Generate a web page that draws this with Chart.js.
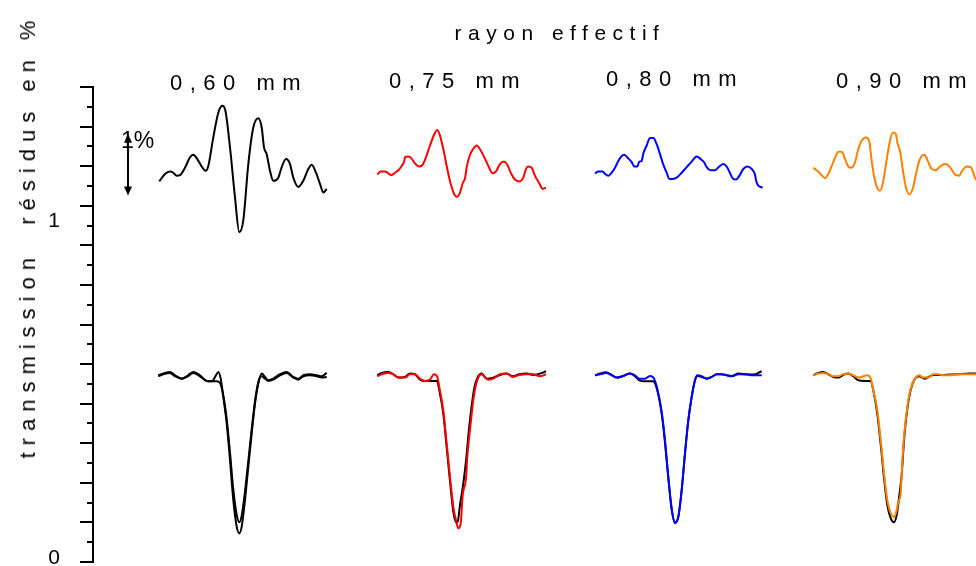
<!DOCTYPE html>
<html>
<head>
<meta charset="utf-8">
<script src="https://cdn.jsdelivr.net/npm/chart.js@4.4.1/dist/chart.umd.min.js"></script>
<style>
  html, body { margin: 0; padding: 0; background: #fff; }
  #cadre { position: relative; width: 976px; height: 566px; overflow: hidden;
           font-family: "Liberation Sans", Arial, sans-serif; color: #000; }
  #cadre canvas { position: absolute; left: 0; top: 0; }
  .texte { position: absolute; white-space: pre; line-height: 1; }
  #titre { left: 560px; top: 22px; font-size: 21px; letter-spacing: 6.5px; transform: translateX(-50%); }
  .rayon { font-size: 22px; letter-spacing: 7.5px; transform: translateX(-50%); }
  #axeY { left: 28px; top: 236px; font-size: 22px; letter-spacing: 7px;
          transform: translate(-50%, -50%) rotate(-90deg); }
</style>
</head>
<body>
<div id="cadre">
  <canvas id="graf" width="976" height="566"></canvas>
  <div class="texte" id="titre">rayon effectif</div>
  <div class="texte rayon" style="left:239px;top:72px">0,60 mm</div>
  <div class="texte rayon" style="left:458px;top:70px">0,75 mm</div>
  <div class="texte rayon" style="left:675px;top:68px">0,80 mm</div>
  <div class="texte rayon" style="left:905px;top:70px">0,90 mm</div>
  <div class="texte" id="axeY">transmission  résidus en %</div>
</div>
<script>
// rayons effectifs (un panneau par rayon)
var rayons = ["0,60 mm", "0,75 mm", "0,80 mm", "0,90 mm"];

// graduations de l'axe vertical
var valeursEtiquettes = [0, 1];
var textesEtiquettes = ["0", "1"];

// résidus en % : [canal, résidu]
var residus60 = [[1.3,-0.14],[7,-0.02],[12,0.02],[15.3,0.0],[18.7,-0.05],[22,-0.04],[27,0.08],[32,0.25],[35.3,0.29],[39.3,0.22],[43.7,0.10],[47.7,0.03],[50.3,0.11],[55.3,0.57],[60.3,0.97],[64.3,1.08],[67,1.03],[72,0.41],[77,-0.40],[81.3,-0.96],[85.3,-0.77],[90.3,0.14],[95.3,0.73],[100.3,0.88],[103.7,0.73],[106,0.41],[108.7,0.30],[112,0.03],[115.3,-0.13],[120.3,-0.08],[123.7,0.09],[128,0.22],[132,0.14],[135.3,-0.08],[140.3,-0.23],[145.3,-0.13],[150.3,0.06],[153.7,0.13],[158,0.0],[162,-0.18],[165.3,-0.32],[168.7,-0.26]];
var residus75 = [[0.8,-0.03],[4.2,0.02],[8.5,0.02],[11.8,-0.01],[14.5,-0.04],[18.5,0.0],[21.8,0.04],[25.2,0.11],[27.8,0.19],[28.5,0.25],[31.8,0.26],[34.5,0.24],[38.5,0.15],[42.8,0.10],[46.2,0.13],[49.5,0.25],[53.5,0.44],[57.5,0.61],[60.8,0.69],[63.5,0.60],[67.5,0.33],[70.8,0.06],[74.2,-0.18],[77.5,-0.34],[80.2,-0.39],[83.5,-0.32],[86.2,-0.17],[88.5,-0.09],[90.2,0.09],[93.5,0.29],[97.8,0.41],[100.2,0.44],[103.5,0.38],[107.5,0.26],[111.8,0.11],[116.2,-0.01],[119.5,0.02],[123.5,0.14],[127.5,0.18],[130.8,0.13],[134.2,0.0],[138.5,-0.11],[142.8,-0.14],[146.8,-0.08],[149.5,0.06],[151.8,0.10],[155.2,0.08],[158.5,-0.05],[162.8,-0.17],[166.2,-0.26],[169.5,-0.24]];
var residus80 = [[0,-0.01],[3.3,0.02],[7.7,0.02],[10,-0.02],[13.3,-0.05],[16.7,0.0],[20,0.08],[23.3,0.19],[26.7,0.27],[29.3,0.29],[33.3,0.23],[36.7,0.17],[39.3,0.10],[42.3,0.10],[44.3,0.18],[46.7,0.19],[48.3,0.31],[51.7,0.44],[55,0.56],[58.3,0.56],[61.7,0.46],[65,0.30],[68.3,0.13],[71.7,0.0],[74.3,-0.10],[77.7,-0.10],[81.7,-0.08],[86.7,0.0],[91.7,0.09],[96.7,0.18],[101.7,0.26],[105.7,0.22],[109,0.17],[111.7,0.09],[115.7,0.04],[120,0.04],[124.3,0.10],[128.3,0.14],[131.7,0.10],[134.3,0.02],[137.7,-0.09],[141,-0.11],[144.3,-0.05],[148.3,0.06],[152.3,0.10],[156.7,0.06],[160,-0.03],[161,-0.12],[163.3,-0.21],[167.7,-0.24]];
var residus90 = [[-0.2,0.08],[3.2,0.04],[7.2,-0.02],[11.5,-0.09],[14.8,-0.02],[18.2,0.11],[21.5,0.24],[24.8,0.34],[28.2,0.34],[31.5,0.22],[34.8,0.10],[38.2,0.08],[41.5,0.17],[44.8,0.38],[48.2,0.52],[52.5,0.57],[55.8,0.50],[58.2,0.19],[60.5,-0.05],[63.8,-0.25],[66.5,-0.29],[69.2,-0.18],[72.5,0.14],[75.8,0.46],[79.2,0.65],[82.5,0.62],[83.8,0.49],[86.5,0.35],[89.2,0.06],[92.5,-0.24],[95.8,-0.35],[99.2,-0.26],[102.5,-0.02],[105.8,0.19],[109.8,0.29],[112.5,0.26],[114.8,0.17],[118.2,0.06],[122.5,0.04],[126.5,0.10],[131.5,0.14],[136.5,0.09],[141.5,-0.03],[145.8,-0.05],[148.2,0.02],[153.2,0.10],[157.2,0.09],[161.5,-0.08],[168,-0.2]];

// transmission : [canal, transmission], courbe noire et courbe en couleur
var trans60Noir = [[0.3,0.552],[5.3,0.558],[12,0.562],[17,0.552],[23.7,0.545],[28.7,0.550],[35.3,0.562],[42,0.552],[48.7,0.538],[53.7,0.537],[58.7,0.537],[62,0.532],[65.3,0.495],[68.7,0.425],[72,0.325],[75.3,0.215],[78.7,0.140],[81.3,0.118],[83.7,0.138],[87,0.21],[90.3,0.30],[93.7,0.395],[97,0.478],[100.3,0.535],[103.7,0.552],[107,0.545],[110.3,0.538],[115.3,0.542],[122,0.555],[128.7,0.562],[135.3,0.548],[140.3,0.542],[145.3,0.552],[152,0.555],[158.7,0.552],[163.7,0.548],[168.7,0.550]];
var trans60Couleur = [[0.3,0.555],[5.3,0.560],[12,0.565],[17,0.555],[23.7,0.545],[28.7,0.552],[35.3,0.565],[42,0.555],[48.7,0.538],[53.7,0.537],[58,0.555],[60.3,0.565],[62.7,0.545],[65.3,0.491],[68.7,0.412],[72,0.303],[75.3,0.184],[78.7,0.105],[81.3,0.085],[83.7,0.105],[87,0.184],[90.3,0.283],[93.7,0.382],[97,0.471],[100.3,0.530],[103.7,0.560],[107,0.550],[110.3,0.540],[115.3,0.545],[122,0.558],[128.7,0.565],[135.3,0.550],[140.3,0.545],[145.3,0.555],[152,0.558],[158.7,0.555],[163.7,0.552],[168.7,0.562]];
var trans75Noir = [[0.8,0.555],[5.2,0.562],[11.8,0.565],[16.8,0.558],[21.8,0.548],[28.5,0.550],[33.5,0.560],[38.5,0.558],[43.5,0.542],[48.5,0.538],[55,0.538],[60.5,0.538],[62.8,0.51],[66.8,0.44],[70.2,0.34],[73.5,0.24],[76.8,0.15],[79.5,0.118],[81.2,0.12],[83.5,0.17],[86.2,0.22],[89.5,0.30],[92,0.38],[95,0.46],[98,0.52],[101,0.548],[105.2,0.56],[110,0.545],[116.8,0.548],[123.5,0.556],[130.2,0.560],[136.2,0.552],[141.8,0.557],[150.2,0.560],[156.8,0.556],[163.5,0.560],[169.5,0.567]];
var trans75Couleur = [[0.8,0.552],[5.2,0.558],[11.8,0.562],[16.8,0.558],[21.8,0.548],[28.5,0.548],[33.5,0.558],[38.5,0.558],[43.5,0.545],[48.5,0.538],[53.5,0.542],[57.5,0.558],[60.8,0.550],[62.8,0.520],[66.8,0.451],[70.2,0.352],[73.5,0.253],[76.8,0.164],[80.2,0.115],[81.8,0.100],[84.2,0.115],[86.2,0.199],[89.5,0.248],[90.8,0.312],[94.2,0.412],[96.8,0.481],[100.2,0.535],[105.2,0.558],[108.5,0.550],[111.8,0.542],[116.8,0.545],[123.5,0.558],[130.2,0.560],[136.2,0.550],[141.8,0.555],[150.2,0.558],[156.8,0.558],[163.5,0.552],[169.5,0.558]];
var trans80Noir = [[0,0.555],[5,0.560],[11,0.564],[16.7,0.556],[21.7,0.548],[28.3,0.553],[35,0.560],[40,0.552],[44.3,0.540],[50,0.537],[58,0.537],[62.3,0.51],[66.7,0.44],[70,0.355],[73.3,0.25],[76.7,0.155],[80,0.118],[83.3,0.134],[86.7,0.214],[90,0.323],[93.3,0.421],[96.7,0.491],[100,0.540],[102.3,0.553],[106.7,0.550],[111.7,0.545],[116.7,0.550],[121.7,0.558],[126.7,0.558],[131.7,0.555],[136.7,0.553],[143.3,0.560],[151.7,0.558],[158.3,0.557],[166.7,0.567]];
var trans80Couleur = [[0,0.555],[5,0.558],[11,0.562],[16.7,0.555],[21.7,0.548],[28.3,0.553],[35,0.560],[40,0.555],[44.3,0.545],[50,0.545],[55,0.553],[59,0.545],[62.3,0.515],[66.7,0.446],[70,0.362],[73.3,0.253],[76.7,0.159],[80,0.115],[83.3,0.134],[86.7,0.214],[90,0.323],[93.3,0.421],[96.7,0.491],[100,0.540],[102.3,0.555],[106.7,0.552],[111.7,0.545],[116.7,0.550],[121.7,0.558],[126.7,0.558],[131.7,0.555],[136.7,0.552],[143.3,0.558],[151.7,0.557],[158.3,0.555],[166.7,0.555]];
var trans90Noir = [[-0.2,0.555],[4.8,0.562],[9.8,0.565],[14.8,0.558],[19.8,0.550],[24.8,0.548],[29.8,0.556],[34.8,0.560],[39.8,0.552],[44.8,0.540],[52,0.538],[57.2,0.538],[59.8,0.51],[63.8,0.44],[67.2,0.35],[70.5,0.25],[73.8,0.17],[77.2,0.13],[80.5,0.118],[83.2,0.14],[85.5,0.19],[88.2,0.26],[90.5,0.36],[93.8,0.455],[97.2,0.512],[101.5,0.545],[105.8,0.552],[111,0.545],[119.8,0.556],[129.8,0.556],[143.2,0.558],[156.5,0.560],[168,0.560]];
var trans90Couleur = [[-0.2,0.555],[4.8,0.560],[9.8,0.562],[14.8,0.558],[19.8,0.552],[24.8,0.552],[29.8,0.558],[34.8,0.560],[39.8,0.555],[44.8,0.548],[49.8,0.552],[53.8,0.555],[57.2,0.545],[59.8,0.510],[63.8,0.451],[67.2,0.362],[70.5,0.263],[73.8,0.184],[77.2,0.145],[80.5,0.134],[83.2,0.154],[84.8,0.179],[87.2,0.204],[88.2,0.263],[90.5,0.372],[93.8,0.461],[97.2,0.515],[101.5,0.545],[105.8,0.555],[109.8,0.548],[114.8,0.548],[119.8,0.558],[124.8,0.558],[129.8,0.555],[136.5,0.555],[143.2,0.558],[149.8,0.558],[156.5,0.558],[168,0.558]];

// les résidus sont posés au-dessus des courbes : niveau zéro et hauteur de 1 %
var ZERO_RESIDUS = 1.157;
var UN_POURCENT = 0.184;
var DECALAGE = 218.5; // écart entre panneaux, en canaux

var panneaux = [
  { res: residus60, noir: trans60Noir, couleur: trans60Couleur, teinte: "#000000" },
  { res: residus75, noir: trans75Noir, couleur: trans75Couleur, teinte: "#ff0000" },
  { res: residus80, noir: trans80Noir, couleur: trans80Couleur, teinte: "#0000ff" },
  { res: residus90, noir: trans90Noir, couleur: trans90Couleur, teinte: "#ff8000" }
];

function points(serie, dec) {
  return serie.map(function (p) { return { x: p[0] + dec, y: p[1] }; });
}
function pointsResidus(serie, dec) {
  return serie.map(function (p) { return { x: p[0] + dec, y: ZERO_RESIDUS + p[1] * UN_POURCENT }; });
}

var datasets = [];
panneaux.forEach(function (pn, i) {
  var dec = i * DECALAGE;
  datasets.push({ label: "résidus " + rayons[i], data: pointsResidus(pn.res, dec), borderColor: pn.teinte, borderWidth: 2, order: 0 });
  datasets.push({ label: "transmission " + rayons[i], data: points(pn.couleur, dec), borderColor: pn.teinte, borderWidth: 2, order: 0 });
  datasets.push({ label: "transmission noire " + rayons[i], data: points(pn.noir, dec), borderColor: "#000000", borderWidth: 2, order: 1 });
});

// graduations : une toutes les 1/17 (grandes et petites alternées)
var graduations = [];
for (var k = 0; k <= 24; k++) graduations.push(k / 17);

var extras = {
  id: "extras",
  afterDraw: function (chart) {
    var ctx = chart.ctx, sy = chart.scales.y, sx = chart.scales.x;
    ctx.save();
    ctx.strokeStyle = "#000";
    ctx.fillStyle = "#000";
    ctx.lineWidth = 2;
    graduations.forEach(function (v, k) {
      var py = Math.round(sy.getPixelForValue(v));
      var long = (k % 2 === 0) ? 13 : 6;
      ctx.beginPath();
      ctx.moveTo(sy.right - long, py);
      ctx.lineTo(sy.right, py);
      ctx.stroke();
    });
    // flèche d'échelle : 1 %
    var fx = Math.round(sx.getPixelForValue(-30));
    var haut = sy.getPixelForValue(ZERO_RESIDUS + 0.63 * UN_POURCENT);
    var bas = sy.getPixelForValue(ZERO_RESIDUS - 0.37 * UN_POURCENT);
    ctx.lineWidth = 2;
    ctx.beginPath();
    ctx.moveTo(fx, haut + 6);
    ctx.lineTo(fx, bas - 6);
    ctx.stroke();
    ctx.beginPath();
    ctx.moveTo(fx, haut); ctx.lineTo(fx - 4, haut + 9); ctx.lineTo(fx + 4, haut + 9); ctx.closePath(); ctx.fill();
    ctx.beginPath();
    ctx.moveTo(fx, bas); ctx.lineTo(fx - 4, bas - 9); ctx.lineTo(fx + 4, bas - 9); ctx.closePath(); ctx.fill();
    ctx.font = '23px "Liberation Sans", Arial, sans-serif';
    ctx.textBaseline = "middle";
    ctx.textAlign = "left";
    ctx.fillText("1%", sx.getPixelForValue(-37), sy.getPixelForValue(ZERO_RESIDUS + 0.5 * UN_POURCENT));
    ctx.restore();
  }
};

var graf = new Chart(document.getElementById("graf"), {
  type: "line",
  data: { datasets: datasets },
  options: {
    responsive: false,
    animation: false,
    devicePixelRatio: 1,
    layout: { padding: { left: 0, right: 0, top: 87, bottom: 4 } },
    elements: {
      point: { radius: 0 },
      line: { cubicInterpolationMode: "monotone", fill: false }
    },
    plugins: { legend: { display: false }, tooltip: { enabled: false } },
    scales: {
      x: { type: "linear", min: -65, max: 818, display: false },
      y: {
        type: "linear",
        position: "left",
        min: 0,
        max: 24 / 17,
        afterBuildTicks: function (s) {
          s.ticks = graduations.map(function (v) { return { value: v }; });
        },
        afterFit: function (s) {
          s.width = 93;
          s.paddingTop = 0;
          s.paddingBottom = 0;
        },
        grid: { drawOnChartArea: false, drawTicks: false },
        border: { display: true, color: "#000", width: 2 },
        ticks: {
          autoSkip: false,
          padding: 33,
          labelOffset: -4,
          color: "#000",
          font: { family: "'Liberation Sans', Arial, sans-serif", size: 21 },
          callback: function (v) {
            for (var j = 0; j < valeursEtiquettes.length; j++) {
              if (Math.abs(v - valeursEtiquettes[j]) < 1e-6) return textesEtiquettes[j];
            }
            return "";
          }
        }
      }
    }
  },
  plugins: [extras]
});
</script>
</body>
</html>
